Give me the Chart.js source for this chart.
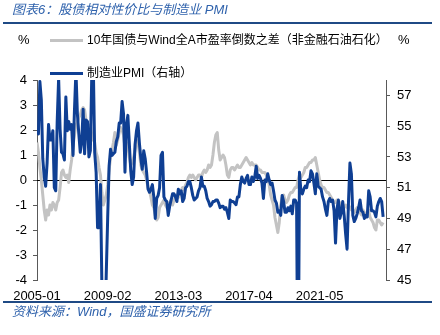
<!DOCTYPE html>
<html lang="zh-CN">
<head>
<meta charset="UTF-8">
<title>股债相对性价比与制造业 PMI</title>
<style>
  body { margin: 0; background: #fff; font-family: "Liberation Sans", Arial, "Noto Sans CJK SC", sans-serif; }
  .wrap { position: relative; width: 440px; height: 335px; overflow: hidden; }
  #chart { position: absolute; left: 0; top: 0; }
  .txt { position: absolute; white-space: nowrap; line-height: 16px; color: #000; }
  .title, .source { color: #2f62ac; font-style: italic; font-size: 13px; }
  .unit { font-size: 13px; }
  .legend { font-size: 12px; }
  .rule { position: absolute; left: 3px; width: 429px; height: 2px; background: #1f4a85; }
  .key { position: absolute; left: 50px; width: 33px; height: 3px; }
</style>
<script src="https://cdn.jsdelivr.net/npm/chart.js"></script>
</head>
<body>
<div class="wrap">
  <canvas id="chart" width="440" height="335"></canvas>

  <div class="txt title" style="left:12px; top:2px;">图表6：股债相对性价比与制造业 PMI</div>
  <div class="rule" style="top:22px;"></div>

  <div class="txt unit" style="left:18px; top:32px;">%</div>
  <div class="key" style="top:39px; background:#c3c3c3;"></div>
  <div class="txt legend" style="left:87px; top:32px;">10年国债与Wind全A市盈率倒数之差（非金融石油石化）</div>
  <div class="txt unit" style="left:398px; top:32px;">%</div>
  <div class="key" style="top:72px; background:#0f3f93;"></div>
  <div class="txt legend" style="left:87px; top:65px;">制造业PMI（右轴）</div>

  <div class="rule" style="top:301px;"></div>
  <div class="txt source" style="left:12px; top:304px;">资料来源：Wind，国盛证券研究所</div>
</div>

<script>
    // Monthly categories 2005-01 .. 2025-03 (axis runs a little past the last reading)
    const months = [];
    for (let y = 2005; y <= 2025; y++) {
        for (let m = 1; m <= 12; m++) {
            if (y === 2025 && m > 3) break;
            months.push(y + '-' + String(m).padStart(2, '0'));
        }
    }
    const xTickLabels = ['2005-01', '2009-02', '2013-03', '2017-04', '2021-05'];
    const leftTicks = [-4, -3, -2, -1, 0, 1, 2, 3, 4];
    const rightTicks = [45, 47, 49, 51, 53, 55, 57];

    // 制造业PMI, 2005-01 .. 2025-01
    const pmi = [
        54.7, 54.5, 57.9, 56.7, 52.9, 51.7, 51.1, 52.6, 55.1, 54.1, 54.1, 54.7,
        51.0, 50.8, 55.3, 58.1, 54.8, 53.3, 53.2, 52.8, 56.9, 54.7, 55.3, 54.8,
        55.1, 53.1, 56.1, 58.6, 55.8, 54.5, 53.3, 54.0, 56.1, 53.2, 55.4, 55.3,
        53.0, 53.4, 58.4, 59.2, 53.3, 52.0, 48.4, 48.4, 51.2, 44.6, 38.8, 41.2,
        45.3, 49.0, 52.4, 53.5, 53.1, 53.2, 53.3, 54.0, 54.3, 55.2, 55.2, 56.6,
        55.8, 52.0, 55.1, 55.7, 53.9, 52.1, 51.2, 51.7, 53.8, 54.7, 55.2, 53.9,
        52.9, 52.2, 53.4, 52.9, 52.0, 50.9, 50.7, 50.9, 51.2, 50.4, 49.0, 50.3,
        50.5, 51.0, 53.1, 53.3, 50.4, 50.2, 50.1, 49.2, 49.8, 50.2, 50.6, 50.6,
        50.4, 50.1, 50.9, 50.6, 50.8, 50.1, 50.3, 51.0, 51.1, 51.4, 51.4, 51.0,
        50.5, 50.2, 50.3, 50.4, 50.8, 51.0, 51.7, 51.1, 51.1, 50.8, 50.3, 50.1,
        49.8, 49.9, 50.1, 50.1, 50.2, 50.2, 50.0, 49.7, 49.8, 49.8, 49.6, 49.7,
        49.4, 49.0, 50.2, 50.1, 50.1, 50.0, 49.9, 50.4, 50.4, 51.2, 51.7, 51.4,
        51.3, 51.6, 51.8, 51.2, 51.2, 51.7, 51.4, 51.7, 52.4, 51.6, 51.8, 51.6,
        51.3, 50.3, 51.5, 51.4, 51.9, 51.5, 51.2, 51.3, 50.8, 50.2, 50.0, 49.4,
        49.5, 49.2, 50.5, 50.1, 49.4, 49.4, 49.7, 49.5, 49.8, 49.3, 50.2, 50.2,
        50.0, 35.7, 52.0, 50.8, 50.6, 50.9, 51.1, 51.0, 51.5, 51.4, 52.1, 51.9,
        51.3, 50.6, 51.9, 51.1, 51.0, 50.9, 50.4, 50.1, 49.6, 49.2, 50.1, 50.3,
        50.1, 50.2, 49.5, 47.4, 49.6, 50.2, 49.0, 49.4, 50.1, 49.2, 48.0, 47.0,
        50.1, 52.6, 51.9, 49.2, 48.8, 49.0, 49.3, 49.7, 50.2, 49.5, 49.4, 49.0,
        49.2, 49.1, 50.8, 50.4, 49.5, 49.5, 49.4, 49.1, 49.8, 50.1, 50.3, 50.1,
        49.1
    ];

    // 10年国债与Wind全A(非金融石油石化)市盈率倒数之差, %, 2005-01 .. 2025-01
    const spread = [
        1.5, 1.1, 0.5, 0.0, -0.6, -1.2, -1.6, -1.2, -1.4, -1.0, -1.2, -0.9,
        -1.0, -1.2, -0.9, -0.8, -0.3, 0.3, 0.4, 0.2, 0.1, 0.2, -0.1, 0.4,
        0.8, 1.4, 1.8, 2.2, 2.3, 2.5, 2.6, 2.8, 2.9, 2.8, 2.4, 2.3,
        2.1, 2.2, 1.8, 1.6, 1.5, 1.1, 0.9, 0.5, 0.2, -0.5, -1.0, -0.8,
        -0.6, -0.2, 0.4, 0.9, 1.2, 1.5, 1.9, 1.4, 1.6, 1.9, 2.1, 2.0,
        1.8, 1.3, 1.5, 1.4, 0.9, 0.6, 0.7, 0.9, 1.2, 1.6, 1.5, 1.1,
        0.6, 0.4, 0.3, 0.2, 0.0, -0.3, -0.4, -0.7, -1.0, -1.1, -1.4, -1.6,
        -1.5, -1.1, -1.0, -0.9, -0.8, -1.0, -1.1, -1.2, -0.9, -0.8, -1.0, -0.8,
        -0.7, -0.6, -0.7, -0.5, -0.4, -0.3, -0.4, -0.2, -0.1, 0.1, 0.2, 0.1,
        0.2, 0.1, 0.0, 0.1, 0.2, 0.2, 0.1, 0.3, 0.4, 0.3, 0.4, 0.6,
        0.5, 0.6, 1.0, 1.5, 1.8, 1.9, 1.2, 0.8, 0.9, 1.0, 0.9, 0.6,
        0.2, 0.1, 0.4, 0.5, 0.5, 0.4, 0.5, 0.6, 0.5, 0.5, 0.6, 0.7,
        0.8, 0.9, 0.8, 0.7, 0.6, 0.7, 0.6, 0.6, 0.6, 0.5, 0.4, 0.4,
        0.3, 0.3, 0.3, 0.2, 0.1, -0.2, -0.6, -0.8, -1.0, -1.5, -1.8, -2.1,
        -1.7, -1.0, -0.7, -0.6, -0.8, -0.9, -0.8, -0.6, -0.5, -0.5, -0.4, -0.3,
        -0.3, 0.0, 0.2, 0.1, 0.2, 0.3, 0.5, 0.5, 0.6, 0.7, 0.7, 0.8,
        0.8, 0.9, 0.6, 0.3, 0.0, -0.2, -0.3, -0.3, -0.4, -0.5, -0.5, -0.6,
        -0.7, -0.8, -0.9, -0.9, -0.8, -0.9, -0.9, -1.0, -1.1, -1.1, -1.0, -1.1,
        -1.0, -1.1, -1.2, -1.2, -1.3, -1.2, -1.1, -1.2, -1.3, -1.4, -1.2, -1.3,
        -1.5, -1.3, -1.2, -1.5, -1.6, -1.7, -1.9, -2.0, -1.6, -1.6, -1.7, -1.8,
        -1.7
    ];

    Chart.defaults.font.family = '"Liberation Sans", Arial, "Noto Sans CJK SC", sans-serif';
    Chart.defaults.color = '#000';

    // black reference line at 0 on the left axis
    const zeroLine = {
        id: 'zeroLine',
        beforeDatasetsDraw(chart) {
            const { ctx, chartArea, scales } = chart;
            const y = Math.round(scales.y.getPixelForValue(0)) + 0.5;
            ctx.save();
            ctx.strokeStyle = '#000';
            ctx.lineWidth = 1;
            ctx.beginPath();
            ctx.moveTo(chartArea.left, y);
            ctx.lineTo(chartArea.right, y);
            ctx.stroke();
            ctx.restore();
        }
    };

    const axisGrid = { display: true, drawOnChartArea: false, drawTicks: true, tickLength: 4, color: '#595959' };

    new Chart(document.getElementById('chart'), {
        type: 'line',
        data: {
            labels: months,
            datasets: [
                {
                    label: '制造业PMI（右轴）',
                    data: pmi,
                    yAxisID: 'y1',
                    borderColor: '#0f3f93',
                    borderWidth: 3,
                    borderJoinStyle: 'round',
                    clip: 0
                },
                {
                    label: '10年国债与Wind全A市盈率倒数之差（非金融石油石化）',
                    data: spread,
                    yAxisID: 'y',
                    borderColor: '#c3c3c3',
                    borderWidth: 3,
                    borderJoinStyle: 'round',
                    clip: 0
                }
            ]
        },
        options: {
            responsive: false,
            animation: false,
            layout: { padding: { top: 80 } },
            elements: { point: { radius: 0 }, line: { tension: 0 } },
            plugins: { legend: { display: false }, tooltip: { enabled: false } },
            scales: {
                x: {
                    grid: { display: false, drawTicks: false },
                    border: { display: false },
                    ticks: {
                        autoSkip: false,
                        maxRotation: 0,
                        padding: 9,
                        font: { size: 13 },
                        callback: (v, i) => xTickLabels.includes(months[i]) ? months[i] : null
                    },
                    afterFit: s => { s.height = 55; }
                },
                y: {
                    position: 'left',
                    min: -4,
                    max: 4,
                    afterBuildTicks: s => { s.ticks = leftTicks.map(v => ({ value: v })); },
                    ticks: { padding: 6, font: { size: 13 }, callback: v => String(v) },
                    grid: axisGrid,
                    border: { color: '#595959' },
                    afterFit: s => { s.width = 37; }
                },
                y1: {
                    position: 'right',
                    min: 45,
                    max: 58,
                    afterBuildTicks: s => { s.ticks = rightTicks.map(v => ({ value: v })); },
                    ticks: { padding: 7, font: { size: 13 }, callback: v => String(v) },
                    grid: axisGrid,
                    border: { color: '#595959' },
                    afterFit: s => { s.width = 54; }
                }
            }
        },
        plugins: [zeroLine]
    });
</script>
</body>
</html>
